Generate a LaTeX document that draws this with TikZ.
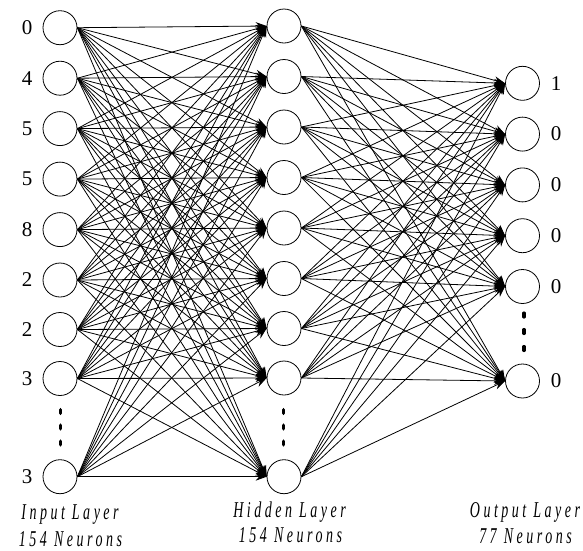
\documentclass[tikz,border=0pt]{standalone}
\usepackage{fontspec}
\usepackage{graphicx}
\setmainfont{Liberation Serif}
\newfontfamily\lblfont[LetterSpace=25]{Liberation Serif}
\usetikzlibrary{arrows.meta}
\tikzset{
  neuron/.style={circle, draw, line width=0.8pt, minimum size=34pt, inner sep=0pt},
  conn/.style={line width=0.8pt, -{Stealth[length=11pt,width=8pt]}},
  digit/.style={font=\fontsize{21}{24}\selectfont, inner sep=0pt},
  lbl/.style={anchor=base, inner sep=0pt},
  dotmark/.style={line width=3.6pt, line cap=round}
}
\newcommand{\laytext}[1]{\scalebox{0.62}[1]{\fontsize{22.6}{26}\lblfont\itshape #1}}
\begin{document}
\begin{tikzpicture}[x=1pt,y=-1pt]
\useasboundingbox (0,0) rectangle (583,550);
% input layer
\foreach \k/\yy/\d in {1/27.7/0,2/78.2/4,3/128.6/5,4/179.1/5,5/229.6/8,6/280/2,7/329.5/2,8/378.5/3,9/476.7/3}{
  \node[neuron] (i\k) at (60,\yy) {};
  \node[digit] (li\k) at (27,\yy) {\d};
}
% hidden layer
\foreach \k/\yy in {1/26,2/76.5,3/127,4/177.5,5/228,6/278.5,7/328.5,8/378,9/476.7}{
  \node[neuron] (h\k) at (284,\yy) {};
}
% output layer
\foreach \k/\yy/\d in {1/83.3/1,2/134.1/0,3/184.9/0,4/235.7/0,5/286.5/0,6/381/0}{
  \node[neuron] (o\k) at (522.5,\yy) {};
  \node[digit] (lo\k) at (556,\yy) {\d};
}
% connections
\foreach \a in {1,...,9}{
  \foreach \b in {1,...,9}{
    \draw[conn] (i\a.east) -- (h\b.west);
  }
}
\foreach \a in {1,...,9}{
  \foreach \b in {1,...,6}{
    \draw[conn] (h\a.east) -- (o\b.west);
  }
}
% ellipsis dots
\foreach \yy in {411.5,427,443}{
  \draw[dotmark] (60.5,\yy-1.8) -- (60.5,\yy+1.8);
  \draw[dotmark] (283.5,\yy-1.8) -- (283.5,\yy+1.8);
}
\foreach \yy in {315,331.5,348.5}{
  \draw[dotmark] (524,\yy-1.8) -- (524,\yy+1.8);
}
% layer labels
\node[lbl] (t1a) at (70,519) {\laytext{Input Layer}};
\node[lbl] (t1b) at (70.5,546) {\laytext{154 Neurons}};
\node[lbl] (t2a) at (289.5,517) {\laytext{Hidden Layer}};
\node[lbl] (t2b) at (290.5,542) {\laytext{154 Neurons}};
\node[lbl] (t3a) at (525,517) {\laytext{Output Layer}};
\node[lbl] (t3b) at (525.5,543) {\laytext{77 Neurons}};
\end{tikzpicture}
\end{document}
